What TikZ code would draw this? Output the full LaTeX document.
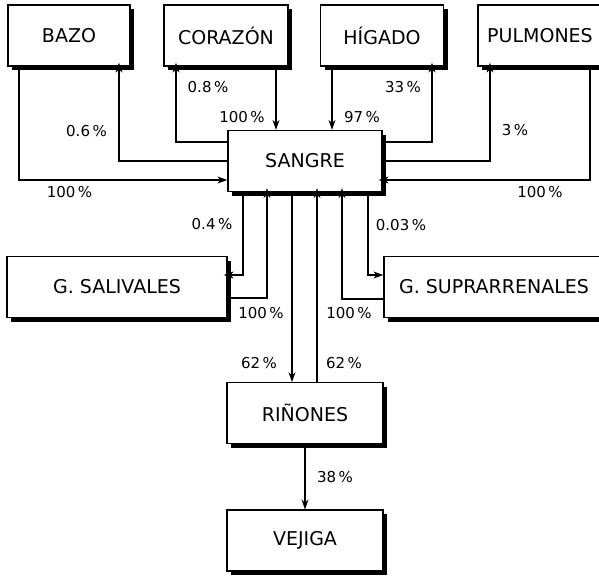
\documentclass[tikz,border=0pt]{standalone}
\usepackage{fontspec}
\setmainfont{DejaVu Sans}
\usetikzlibrary{positioning,shadows,arrows.meta}

\begin{document}
\begin{tikzpicture}[x=1pt, y=-1pt,
  organ/.style={draw, line width=1.3pt, fill=white, minimum height=61pt, inner sep=2pt,
    font=\fontsize{19}{22}\selectfont,
    drop shadow={shadow xshift=4pt, shadow yshift=-4pt, opacity=1, fill=black}},
  pct/.style={font=\fontsize{15}{18}\selectfont, inner sep=0pt},
  flow/.style={draw=black, line width=1.1pt, -{Stealth[length=10pt,width=7pt]}},
  toshadow/.style={shorten >=-4pt}]
\useasboundingbox (0,0) rectangle (599,575);
% organs
\node[organ, minimum width=122pt] (bazo) at (69,35.5) {BAZO};
\node[organ, minimum width=124pt] (corazon) at (226,35.5) {CORAZÓN};
\node[organ, minimum width=123pt] (higado) at (382,35.5) {HÍGADO};
\node[organ, minimum width=124pt] (pulmones) at (540,35.5) {PULMONES};
\node[organ, minimum width=154pt] (sangre) at (305,161) {SANGRE};
\node[organ, minimum width=220pt] (salivales) at (117,287) {G. SALIVALES};
\node[organ, minimum width=220pt] (supra) at (494,287) {G. SUPRARRENALES};
\node[organ, minimum width=156pt, below=190pt of sangre] (rinones) {RIÑONES};
\node[organ, minimum width=156pt, below=65pt of rinones] (vejiga) {VEJIGA};
% flows
\draw[flow] ([xshift=-50pt]bazo.south) |- ([yshift=-19pt]sangre.west);
\draw[flow, toshadow] (sangre.west) -| ([xshift=50pt]bazo.south);
\draw[flow, toshadow] ([yshift=19pt]sangre.west) -| ([xshift=-50pt]corazon.south);
\draw[flow] ([xshift=50pt]corazon.south) -- ([xshift=-29pt]sangre.north);
\draw[flow] ([xshift=-50pt]higado.south) -- ([xshift=27pt]sangre.north);
\draw[flow, toshadow] ([yshift=19pt]sangre.east) -| ([xshift=50pt]higado.south);
\draw[flow, toshadow] (sangre.east) -| ([xshift=-50pt]pulmones.south);
\draw[flow, toshadow] ([xshift=50pt]pulmones.south) |- ([yshift=-19pt]sangre.east);
\draw[flow, toshadow] ([xshift=-62pt]sangre.south) |- ([yshift=12pt]salivales.east);
\draw[flow, toshadow] ([yshift=-11pt]salivales.east) -| ([xshift=-38pt]sangre.south);
\draw[flow] ([xshift=-13pt]sangre.south) -- ([xshift=-13pt]rinones.north);
\draw[flow, toshadow] ([xshift=12pt]rinones.north) -- ([xshift=12pt]sangre.south);
\draw[flow] ([xshift=63pt]sangre.south) |- ([yshift=12pt]supra.west);
\draw[flow, toshadow] ([yshift=-12pt]supra.west) -| ([xshift=37pt]sangre.south);
\draw[flow] (rinones.south) -- (vejiga.north);
% percentages
\node[pct] (p-bazo-out) at (69.5,192) {100\,\%};
\node[pct] (p-bazo-in) at (86.5,131) {0.6\,\%};
\node[pct] (p-cor-in) at (208,87) {0.8\,\%};
\node[pct] (p-cor-out) at (242,117) {100\,\%};
\node[pct] (p-hig-out) at (362,117) {97\,\%};
\node[pct] (p-hig-in) at (403,87) {33\,\%};
\node[pct] (p-pul-in) at (515,130) {3\,\%};
\node[pct] (p-pul-out) at (540,192) {100\,\%};
\node[pct] (p-sal-in) at (212,224) {0.4\,\%};
\node[pct] (p-sal-out) at (261,313) {100\,\%};
\node[pct] (p-rin-in) at (259,363) {62\,\%};
\node[pct] (p-rin-out) at (344,363) {62\,\%};
\node[pct] (p-sup-in) at (401,225) {0.03\,\%};
\node[pct] (p-sup-out) at (349,313) {100\,\%};
\node[pct] (p-vej) at (335,477) {38\,\%};
\end{tikzpicture}
\end{document}
